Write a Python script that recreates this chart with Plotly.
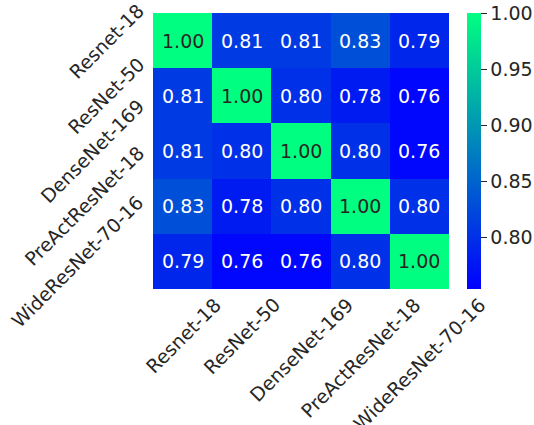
import plotly.graph_objects as go

models = ["Resnet-18", "ResNet-50", "DenseNet-169", "PreActResNet-18", "WideResNet-70-16"]
values = [
    [1.00, 0.81, 0.81, 0.83, 0.79],
    [0.81, 1.00, 0.80, 0.78, 0.76],
    [0.81, 0.80, 1.00, 0.80, 0.76],
    [0.83, 0.78, 0.80, 1.00, 0.80],
    [0.79, 0.76, 0.76, 0.80, 1.00],
]
cbar_ticks = [0.80, 0.85, 0.90, 0.95, 1.00]

winter = [[0.0, "#0000FF"], [1.0, "#00FF80"]]
zmin, zmax = 0.7536, 1.0
FONT = "DejaVu Sans"
FS = 19
TXT = "#262626"

L, R, T, B = 153, 85, 13, 136
W, H = 534, 425
pw, ph = W - L - R, H - T - B
n = len(models)

fig = go.Figure(go.Heatmap(
    z=values, x=models, y=models,
    colorscale=winter, zmin=zmin, zmax=zmax,
    hoverinfo="skip",
    colorbar=dict(
        x=(467 - L) / pw, xanchor="left", xpad=0, y=0.5, yanchor="middle",
        len=1.0, lenmode="fraction", ypad=0,
        thickness=14, outlinewidth=0,
        tickvals=cbar_ticks, ticktext=[f"{v:.2f}" for v in cbar_ticks],
        ticks="outside", ticklen=6, tickcolor=TXT,
        tickfont=dict(family=FONT, size=FS, color=TXT),
    ),
))

ann = []
for i, row in enumerate(values):
    for j, v in enumerate(row):
        frac = (v - zmin) / (zmax - zmin)
        col = TXT if frac > 0.6 else "white"
        ann.append(dict(x=models[j], y=models[i], text=f"{v:.2f}", showarrow=False,
                        font=dict(family=FONT, size=FS, color=col)))

# tick labels (matplotlib-style anchoring of rotated boxes)
for m in models:
    ann.append(dict(x=(151 - L) / pw, xref="paper", y=m, yref="y", text=m,
                    showarrow=False, textangle=-45, xanchor="right", yanchor="middle",
                    font=dict(family=FONT, size=FS, color=TXT)))
    ann.append(dict(x=m, xref="x", y=-(291 - (H - B)) / ph, yref="paper", text=m, showarrow=False,
                    textangle=-45, xanchor="center", yanchor="top",
                    font=dict(family=FONT, size=FS, color=TXT)))

fig.update_layout(
    width=W, height=H,
    margin=dict(l=L, r=R, t=T, b=B, autoexpand=False),
    paper_bgcolor="white", plot_bgcolor="white",
    annotations=ann,
    xaxis=dict(showticklabels=False, ticks="", showgrid=False, zeroline=False, showline=False,
               automargin=False, autorange=False, range=[-0.5, n - 0.5]),
    yaxis=dict(showticklabels=False, ticks="", showgrid=False, zeroline=False, showline=False,
               automargin=False, autorange=False, range=[n - 0.5, -0.5]),
)

fig.write_html("out.html", config={"displayModeBar": False},
               post_script="document.body.style.margin='0';document.body.style.overflow='hidden';")
